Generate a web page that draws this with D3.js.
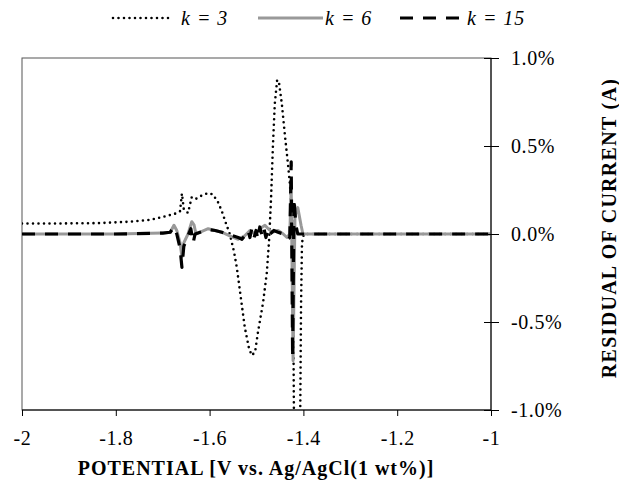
<!DOCTYPE html>
<html>
<head>
<meta charset="utf-8">
<script src="https://cdn.jsdelivr.net/npm/d3@7"></script>
<style>
  body { margin: 0; background: #fff; }
  svg { display: block; }
</style>
</head>
<body>
<svg id="chart" width="619" height="489"></svg>
<script>
// Potential (V) and residual of current (%) for each model order k
const k3Potential = [-2.0, -1.919, -1.834, -1.770, -1.727, -1.695, -1.674, -1.663, -1.659, -1.655, -1.646, -1.638, -1.629, -1.616, -1.603, -1.593, -1.582, -1.574, -1.565, -1.557, -1.548, -1.542, -1.535, -1.525, -1.516, -1.510, -1.503, -1.497, -1.486, -1.478, -1.473, -1.469, -1.465, -1.461, -1.456, -1.452, -1.446, -1.439, -1.433, -1.429, -1.424, -1.422, -1.420, -1.414, -1.407, -1.405, -1.403, -1.399, -1.2, -1.0];
const k3Residual  = [0.06, 0.06, 0.062, 0.07, 0.08, 0.1, 0.115, 0.13, 0.23, 0.14, 0.12, 0.21, 0.2, 0.22, 0.233, 0.225, 0.18, 0.13, 0.06, 0.0, -0.1, -0.19, -0.33, -0.53, -0.65, -0.69, -0.67, -0.56, -0.39, -0.22, -0.03, 0.2, 0.5, 0.74, 0.875, 0.86, 0.74, 0.55, 0.4, 0.29, 0.1, -0.3, -1.1, -1.2, -1.1, -0.4, -0.05, 0.0, 0.0, 0.0];

const k6Potential = [-2.0, -1.9, -1.8, -1.7, -1.684, -1.676, -1.670, -1.663, -1.659, -1.655, -1.646, -1.638, -1.633, -1.629, -1.620, -1.603, -1.588, -1.574, -1.557, -1.539, -1.525, -1.514, -1.503, -1.493, -1.482, -1.475, -1.467, -1.454, -1.443, -1.435, -1.429, -1.426, -1.422, -1.418, -1.412, -1.405, -1.401, -1.2, -1.0];
const k6Residual  = [0.0, 0.0, 0.0, 0.005, 0.01, 0.05, 0.02, -0.05, -0.13, -0.05, 0.0, 0.07, 0.05, 0.0, 0.01, 0.03, 0.02, 0.01, -0.01, -0.03, -0.01, 0.02, 0.0, 0.03, 0.05, 0.03, 0.01, 0.02, 0.0, -0.02, 0.0, 0.27, -0.72, 0.1, 0.15, 0.05, 0.0, 0.0, 0.0];

const k15Potential = [-2.0, -1.9, -1.8, -1.7, -1.684, -1.676, -1.670, -1.663, -1.659, -1.655, -1.646, -1.640, -1.635, -1.631, -1.620, -1.603, -1.588, -1.574, -1.557, -1.539, -1.531, -1.525, -1.518, -1.514, -1.510, -1.505, -1.501, -1.497, -1.493, -1.488, -1.484, -1.480, -1.475, -1.471, -1.463, -1.454, -1.443, -1.435, -1.429, -1.426, -1.423, -1.420, -1.416, -1.412, -1.2, -1.0];
const k15Residual  = [0.0, 0.0, 0.0, 0.005, 0.01, 0.04, 0.0, -0.08, -0.19, -0.07, -0.01, 0.03, -0.05, 0.0, 0.01, 0.025, 0.02, 0.01, -0.005, -0.02, -0.03, -0.01, 0.02, -0.02, 0.03, -0.02, 0.02, -0.03, 0.04, -0.01, 0.03, -0.02, 0.03, 0.0, 0.02, 0.01, 0.0, -0.03, -0.02, 0.41, -0.70, 0.2, 0.05, 0.0, 0.0, 0.0];

const xTicks = [-2, -1.8, -1.6, -1.4, -1.2, -1];
const yTicks = [1.0, 0.5, 0.0, -0.5, -1.0];
const seriesNames = ["k = 3", "k = 6", "k = 15"];

const serif = "Liberation Serif";
const svg = d3.select("#chart");
const plotLeft = 22, plotRight = 491, plotTop = 58, plotBottom = 410;

const x = d3.scaleLinear().domain([-2, -1]).range([plotLeft, plotRight]);
const y = d3.scaleLinear().domain([-1, 1]).range([plotBottom, plotTop]);

// clip curves to the plot box
svg.append("defs").append("clipPath").attr("id", "plotClip")
  .append("rect").attr("x", plotLeft).attr("y", plotTop)
  .attr("width", plotRight - plotLeft).attr("height", plotBottom - plotTop);

// frame
svg.append("rect")
  .attr("x", plotLeft).attr("y", plotTop)
  .attr("width", plotRight - plotLeft).attr("height", plotBottom - plotTop)
  .attr("fill", "none").attr("stroke", "#555").attr("stroke-width", 1);

const line = d3.line().x(d => x(d[0])).y(d => y(d[1]));
const zip = (a, b) => a.map((v, i) => [v, b[i]]);

const styles = [
  { data: zip(k3Potential, k3Residual), stroke: "#000", width: 2.6, dash: "0,5.5", cap: "round" },
  { data: zip(k6Potential, k6Residual), stroke: "#999", width: 3, dash: null, cap: "butt" },
  { data: zip(k15Potential, k15Residual), stroke: "#000", width: 3.2, dash: "13,10", cap: "butt" }
];

const plot = svg.append("g").attr("clip-path", "url(#plotClip)");
styles.forEach(s => {
  plot.append("path")
    .attr("d", line(s.data))
    .attr("fill", "none")
    .attr("stroke", s.stroke)
    .attr("stroke-width", s.width)
    .attr("stroke-dasharray", s.dash)
    .attr("stroke-linecap", s.cap)
    .attr("stroke-linejoin", "round");
});

// bottom axis
const xAxis = svg.append("g").attr("transform", `translate(0,${plotBottom})`)
  .call(d3.axisBottom(x).tickValues(xTicks).tickSize(6).tickPadding(15)
    .tickFormat(d => String(d)));
xAxis.select(".domain").attr("stroke", "#000").attr("d", `M${plotLeft},0H${plotRight}`);
xAxis.selectAll(".tick line").attr("stroke", "#000");
xAxis.selectAll("text")
  .style("font-family", serif).style("font-size", "20px").style("letter-spacing", "0.6px")
  .attr("fill", "#000");

// right axis with ticks crossing the line
const yAxis = svg.append("g").attr("transform", `translate(${plotRight},0)`)
  .call(d3.axisRight(y).tickValues(yTicks).tickSize(8).tickPadding(12)
    .tickFormat(d => d3.format(".1f")(d).replace("−", "-") + "%"));
yAxis.select(".domain").attr("stroke", "#000").attr("d", `M0,${plotTop}V${plotBottom}`);
yAxis.selectAll(".tick line").attr("stroke", "#000").attr("x1", -7);
yAxis.selectAll("text")
  .style("font-family", serif).style("font-size", "20px").style("letter-spacing", "0.6px")
  .attr("fill", "#000");

// axis titles
svg.append("text")
  .attr("x", 256).attr("y", 475)
  .attr("text-anchor", "middle")
  .style("font-family", serif).style("font-size", "20px").style("font-weight", "bold")
  .style("letter-spacing", "1px")
  .text("POTENTIAL [V vs. Ag/AgCl(1 wt%)]");

svg.append("text")
  .attr("transform", `translate(609,228) rotate(-90)`)
  .attr("text-anchor", "middle").attr("dominant-baseline", "central")
  .style("font-family", serif).style("font-size", "20px").style("font-weight", "bold")
  .style("letter-spacing", "1.3px")
  .text("RESIDUAL OF CURRENT (A)");

// legend
const legendItems = [
  { x1: 113, x2: 170, tx: 181, style: styles[0], name: seriesNames[0] },
  { x1: 258, x2: 323, tx: 325, style: styles[1], name: seriesNames[1] },
  { x1: 400, x2: 465, tx: 467, style: styles[2], name: seriesNames[2] }
];
const legend = svg.append("g");
legendItems.forEach(it => {
  legend.append("line")
    .attr("x1", it.x1).attr("x2", it.x2).attr("y1", 18).attr("y2", 18)
    .attr("stroke", it.style.stroke).attr("stroke-width", it.style.width)
    .attr("stroke-dasharray", it.style.dash).attr("stroke-linecap", it.style.cap);
  legend.append("text").attr("x", it.tx).attr("y", 25)
    .style("font-family", serif).style("font-size", "20px").style("font-style", "italic")
    .style("letter-spacing", "1px")
    .text(it.name);
});
</script>
</body>
</html>
